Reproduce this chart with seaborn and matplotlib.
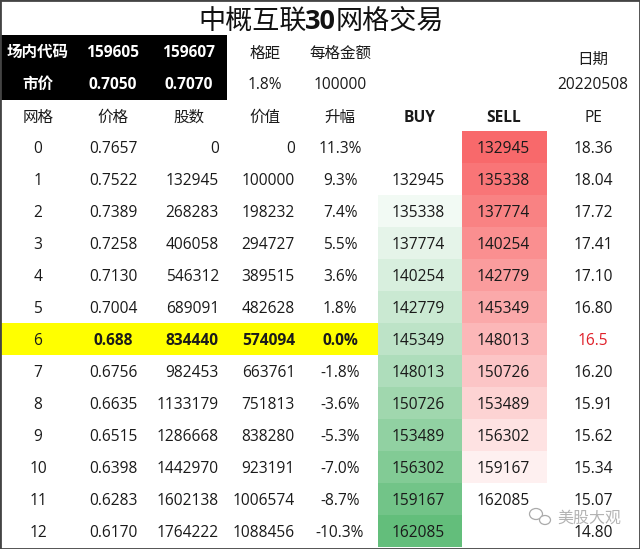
import numpy as np
import pandas as pd
import matplotlib
matplotlib.use("Agg")
import matplotlib.pyplot as plt
from matplotlib.colors import LinearSegmentedColormap
from matplotlib.patches import Rectangle, Ellipse
import seaborn as sns

# 数据
grid_no = [0, 1, 2, 3, 4, 5, 6, 7, 8, 9, 10, 11, 12]
price = ["0.7657", "0.7522", "0.7389", "0.7258", "0.7130", "0.7004", "0.688",
         "0.6756", "0.6635", "0.6515", "0.6398", "0.6283", "0.6170"]
shares = [0, 132945, 268283, 406058, 546312, 689091, 834440,
          982453, 1133179, 1286668, 1442970, 1602138, 1764222]
value = [0, 100000, 198232, 294727, 389515, 482628, 574094,
         663761, 751813, 838280, 923191, 1006574, 1088456]
change = ["11.3%", "9.3%", "7.4%", "5.5%", "3.6%", "1.8%", "0.0%",
          "-1.8%", "-3.6%", "-5.3%", "-7.0%", "-8.7%", "-10.3%"]
buy = [np.nan, 132945, 135338, 137774, 140254, 142779, 145349,
       148013, 150726, 153489, 156302, 159167, 162085]
sell = [132945, 135338, 137774, 140254, 142779, 145349, 148013,
        150726, 153489, 156302, 159167, 162085, np.nan]
pe = ["18.36", "18.04", "17.72", "17.41", "17.10", "16.80", "16.5",
      "16.20", "15.91", "15.62", "15.34", "15.07", "14.80"]
headers = ["网格", "价格", "股数", "价值", "升幅", "BUY", "SELL", "PE"]
codes = ["159605", "159607"]
quotes = ["0.7050", "0.7070"]

# 版面（像素）
W, H = 640, 549
COL_CENTER = [38, 113, 189, 265, 340, 420, 504, 593]
SHARES_RIGHT = 219
VALUE_RIGHT = 295
ROW_TOP = 131
ROW_H = 32
BUY_X = (378, 462)
SELL_X = (462, 547)
HILITE = 6

sns.set_theme(style="white")
plt.rcParams["font.family"] = ["Open Sans", "Noto Sans CJK SC", "DejaVu Sans"]
FS = 11.2
TXT = "#1a1a1a"

fig = plt.figure(figsize=(W / 100, H / 100), dpi=100)
ax = fig.add_axes([0, 0, 1, 1])
ax.set_xlim(0, W)
ax.set_ylim(H, 0)
ax.set_xticks([])
ax.set_yticks([])
for s in ax.spines.values():
    s.set_color("#444444")
    s.set_linewidth(2)


def row_y(i):
    return ROW_TOP + ROW_H * i + ROW_H / 2


# 标题
title_kw = dict(ha="left", va="center_baseline", color="#111111", fontsize=19.5)
ax.text(198, 19, "中概互联", family=["Noto Sans CJK SC"], **title_kw)
ax.text(305, 19, "30", family=["Open Sans"], fontweight="bold", **title_kw)
ax.text(336, 19, "网格交易", family=["Noto Sans CJK SC"], **title_kw)

# 顶部黑色区域
ax.add_patch(Rectangle((0, 35), 227, 64.5, color="black", lw=0))
for y, row in zip((51, 83), (["场内代码"] + codes, ["市价"] + quotes)):
    for x, t in zip(COL_CENTER[:3], row):
        ax.text(x, y, t, ha="center", va="center_baseline", color="white",
                fontsize=FS, fontweight="bold")

kw = dict(ha="center", va="center_baseline", color=TXT, fontsize=FS)
ax.text(COL_CENTER[3], 52, "格距", **kw)
ax.text(COL_CENTER[3], 83, "1.8%", **kw)
ax.text(COL_CENTER[4], 52, "每格金额", **kw)
ax.text(COL_CENTER[4], 83, "100000", **kw)
ax.text(COL_CENTER[7], 58, "日期", **kw)
ax.text(COL_CENTER[7], 83, "20220508", **kw)

# 表头
for x, h in zip(COL_CENTER, headers):
    ax.text(x, 116, h, fontweight="bold" if h in ("BUY", "SELL") else "normal", **kw)

# 高亮行
ax.add_patch(Rectangle((0, ROW_TOP + ROW_H * HILITE), BUY_X[0], ROW_H,
                       color="#ffff00", lw=0))

# 表格内容
for i in range(len(grid_no)):
    y = row_y(i)
    w = "bold" if i == HILITE else "normal"
    kw = dict(va="center_baseline", color=TXT, fontsize=FS)
    ax.text(COL_CENTER[0], y, str(grid_no[i]), ha="center", **kw)
    ax.text(COL_CENTER[1], y, price[i], ha="center", fontweight=w, **kw)
    ax.text(SHARES_RIGHT, y, str(shares[i]), ha="right", fontweight=w, **kw)
    ax.text(VALUE_RIGHT, y, str(value[i]), ha="right", fontweight=w, **kw)
    ax.text(COL_CENTER[4], y, change[i], ha="center", fontweight=w, **kw)
    ax.text(COL_CENTER[7], y, pe[i], ha="center", va="center_baseline", fontsize=FS,
            color="#e0202a" if i == HILITE else TXT)


def draw_column(values, xr, colors):
    # 色阶列用 heatmap 画
    a = fig.add_axes([xr[0] / W, 1 - (ROW_TOP + ROW_H * 13) / H,
                      (xr[1] - xr[0]) / W, ROW_H * 13 / H])
    a.patch.set_alpha(0)
    df = pd.DataFrame({"v": values})
    cmap = LinearSegmentedColormap.from_list("scale", colors)
    sns.heatmap(df, ax=a, cmap=cmap, cbar=False, annot=True, fmt=".0f",
                vmin=132945, vmax=162085, xticklabels=False, yticklabels=False,
                annot_kws={"fontsize": FS, "color": TXT, "va": "center_baseline"})
    # 数字略偏左
    for t in a.texts:
        x, y = t.get_position()
        t.set_position((x - 0.018, y))
    return a


draw_column(buy, BUY_X, ["#ffffff", "#63be7b"])
draw_column(sell, SELL_X, ["#f8696b", "#ffffff"])

# 水印
wm = fig.add_axes([0, 0, 1, 1])
wm.set_xlim(0, W)
wm.set_ylim(H, 0)
wm.axis("off")
wm.patch.set_alpha(0)
wm.text(557, 518, "美股大观", ha="left", va="center", color="#9a9a9a",
        alpha=0.75, fontsize=11.5, family=["Noto Sans CJK SC"])
wm.add_patch(Ellipse((536, 514), 13, 11, fc="none", ec="#aaaaaa", lw=0.9))
wm.add_patch(Ellipse((545, 520), 11, 9, fc="white", ec="#aaaaaa", lw=0.9))

fig.savefig("out.png", dpi=100)
